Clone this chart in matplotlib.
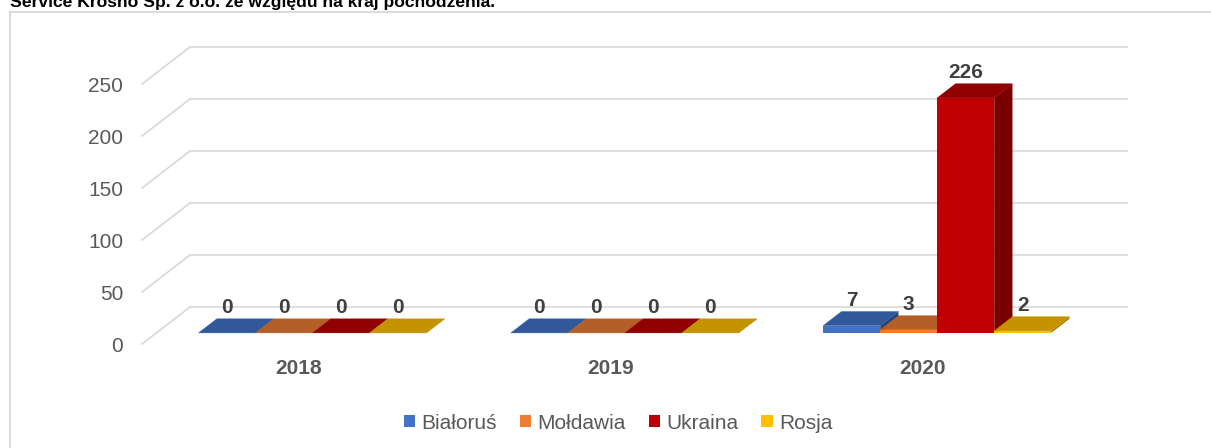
import numpy as np
import matplotlib
matplotlib.use("Agg")
import matplotlib.pyplot as plt
from matplotlib.patches import Polygon, Patch
from matplotlib.lines import Line2D

plt.rcParams['font.family'] = ['Liberation Sans', 'DejaVu Sans']

# data
years     = ['2018', '2019', '2020']
countries = ['Białoruś', 'Mołdawia', 'Ukraina', 'Rosja']
bialorus  = [0, 0, 7]
moldawia  = [0, 0, 3]
ukraina   = [0, 0, 226]
rosja     = [0, 0, 2]
series    = [bialorus, moldawia, ukraina, rosja]

yticks = [0, 50, 100, 150, 200, 250]
title  = 'Service Krosno Sp. z o.o. ze względu na kraj pochodzenia.'

# face colours: front, top, side
front = ['#4472C4', '#ED7D31', '#C00000', '#FFC000']
top   = ['#30589A', '#B45F27', '#900000', '#C39300']
side  = ['#264478', '#9E480E', '#7A0000', '#A67C00']

W, H = 1211, 448
fig = plt.figure(figsize=(W / 100, H / 100), dpi=100)

# front plane of the 3D box
x0, x1 = 142, 1079
yb, yt = 344, 84
ax = fig.add_axes([x0 / W, (H - yb) / H, (x1 - x0) / W, (yb - yt) / H])
ax.set_xlim(0, 3)
ax.set_ylim(0, 250)
for sp in ax.spines.values():
    sp.set_visible(False)

# oblique depth offset (full depth), in data units
DX = 48.0 / (x1 - x0) * 3
DY = 37.0 / (yb - yt) * 250


def proj(x, v, d):
    return x + DX * d, v + DY * d


grid_c = '#D9D9D9'
for v in yticks:
    # back wall
    xa, ya = proj(0, v, 1)
    xb, yb2 = proj(3, v, 1)
    ax.plot([xa, xb], [ya, yb2], color=grid_c, lw=1.2, clip_on=False, zorder=1)
    # side wall
    xs, ys = proj(0, v, 0)
    ax.plot([xs, xa], [ys, ya], color=grid_c, lw=1.2, clip_on=False, zorder=1)

# bars
bw = 0.1825
d0, d1 = 0.30, 0.68
for i in range(len(years)):
    for j, vals in enumerate(series):
        v = vals[i]
        xl = i + 0.5 - 2 * bw + j * bw
        xr = xl + bw
        fpts = [proj(xl, 0, d0), proj(xr, 0, d0), proj(xr, v, d0), proj(xl, v, d0)]
        tpts = [proj(xl, v, d0), proj(xr, v, d0), proj(xr, v, d1), proj(xl, v, d1)]
        spts = [proj(xr, 0, d0), proj(xr, 0, d1), proj(xr, v, d1), proj(xr, v, d0)]
        z = 3 + i * 4 + j
        if v > 0:
            ax.add_patch(Polygon(spts, closed=True, fc=side[j], ec='none',
                                 clip_on=False, zorder=z))
            ax.add_patch(Polygon(fpts, closed=True, fc=front[j], ec='none',
                                 clip_on=False, zorder=z))
        ax.add_patch(Polygon(tpts, closed=True, fc=top[j], ec=top[j], lw=0.3,
                             clip_on=False, zorder=z))
        lx, _ = proj(xl + bw / 2, v, d0)
        _, ly = proj(xl + bw / 2, v, d1)
        ax.annotate(str(v), (lx, ly), xytext=(0, 1), textcoords='offset points',
                    ha='center', va='bottom', fontsize=15, fontweight='bold',
                    color='#404040', zorder=30, annotation_clip=False)

ax.set_yticks(yticks)
ax.set_yticklabels([str(t) for t in yticks])
ax.set_xticks([0.5, 1.5, 2.5])
ax.set_xticklabels(years, fontweight='bold')
ax.tick_params(axis='y', length=0, pad=13.5, labelsize=15, labelcolor='#595959')
ax.tick_params(axis='x', length=0, pad=11, labelsize=15, labelcolor='#595959')

# chart area frame
fig.add_artist(Line2D([10.5 / W, 10.5 / W], [0, 1 - 12.5 / H], color=grid_c, lw=1.3))
fig.add_artist(Line2D([10.5 / W, 1], [1 - 12.5 / H, 1 - 12.5 / H], color=grid_c, lw=1.3))

fig.text(10 / W, 1 - 7 / H, title, ha='left', va='baseline', fontsize=12.6,
         fontweight='bold', color='black')

handles = [Patch(facecolor=c, edgecolor='none') for c in front]
leg = fig.legend(handles, countries, loc='center', bbox_to_anchor=(618 / W, 1 - 423 / H),
                 ncol=4, frameon=False, fontsize=15, handlelength=0.55, handleheight=0.55,
                 handletextpad=0.3, columnspacing=1.1)
for t in leg.get_texts():
    t.set_color('#595959')

fig.savefig('out.png', dpi=100)
